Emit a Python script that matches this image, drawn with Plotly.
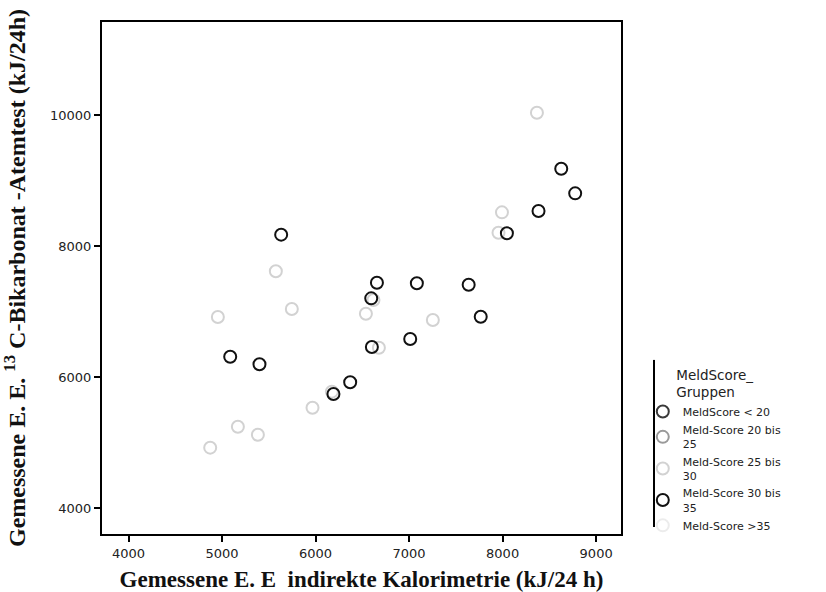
import plotly.graph_objects as go

# Data (x: indirect calorimetry, y: 13C-bicarbonate breath test), kJ/24h
black_x = [5632, 6656, 7083, 7637, 8627, 8776, 8384, 8046, 6595, 7766, 6602, 7012, 5087, 5400, 6370, 6191]
black_y = [8173, 7440, 7431, 7409, 9180, 8804, 8534, 8194, 7201, 6921, 6458, 6580, 6310, 6194, 5919, 5740]

gray_x = [8367, 5575, 5746, 4955, 6538, 7254, 6677, 6619, 6174, 5967, 5169, 5383, 4873, 7993, 7956]
gray_y = [10035, 7614, 7038, 6916, 6966, 6870, 6447, 7176, 5776, 5531, 5241, 5119, 4921, 8514, 8203]

# points lying just beyond the right edge of the axis (only clipped slivers visible)
edge_black_x = [9280, 9280]
edge_black_y = [10687, 9415]
edge_gray_x = [9280, 9280, 9280]
edge_gray_y = [10356, 9898, 9058]

groups = ["MeldScore &lt; 20", "Meld-Score 20 bis<br>25", "Meld-Score 25 bis<br>30",
          "Meld-Score 30 bis<br>35", "Meld-Score &gt;35"]
group_colors = ["#3a3a3a", "#9a9a9a", "#d2d2d2", "#111111", "#ececec"]

x_ticks = [4000, 5000, 6000, 7000, 8000, 9000]
y_ticks = [4000, 6000, 8000, 10000]

fig = go.Figure()

series = {
    0: ([None], [None]),
    1: ([None], [None]),
    2: (gray_x, gray_y),
    3: (black_x, black_y),
    4: ([None], [None]),
}
edges = {2: (edge_gray_x, edge_gray_y), 3: (edge_black_x, edge_black_y)}

for i, name in enumerate(groups):
    xs, ys = series[i]
    mk = dict(symbol="circle-open", size=12, color=group_colors[i],
              line=dict(width=2, color=group_colors[i]))
    fig.add_trace(go.Scatter(
        x=xs, y=ys, mode="markers", name=name, legendgroup=str(i),
        cliponaxis=False, marker=mk, showlegend=True,
    ))
    if i in edges:
        ex, ey = edges[i]
        fig.add_trace(go.Scatter(
            x=ex, y=ey, mode="markers", name=name, legendgroup=str(i),
            cliponaxis=True, marker=mk, showlegend=False,
        ))

tick_font = dict(family="DejaVu Sans, Arial, sans-serif", size=13, color="#222222")
x_title_font = dict(family="Liberation Serif, Times New Roman, serif", size=23, color="#111111")
y_title_font = dict(family="Liberation Serif, Times New Roman, serif", size=24, color="#111111")
legend_font = dict(family="DejaVu Sans, Arial, sans-serif", size=11, color="#222222")

fig.update_layout(
    width=826, height=592,
    margin=dict(l=102, r=205, t=22, b=58, autoexpand=False),
    paper_bgcolor="white", plot_bgcolor="white",
    font=tick_font,
    xaxis=dict(
        range=[3716, 9266], tickvals=x_ticks, ticktext=[str(v) for v in x_ticks],
        showgrid=False, zeroline=False,
        showline=True, linecolor="black", linewidth=2, mirror=True,
        ticks="outside", ticklen=6, tickwidth=1.5, tickcolor="black",
        tickfont=tick_font, automargin=False,
        title=dict(text="<b>Gemessene E. E  indirekte Kalorimetrie (kJ/24 h)</b>", font=x_title_font, standoff=22),
    ),
    yaxis=dict(
        range=[3603, 11420], tickvals=y_ticks, ticktext=[str(v) for v in y_ticks],
        showgrid=False, zeroline=False,
        showline=True, linecolor="black", linewidth=2, mirror=True,
        ticks="outside", ticklen=6, tickwidth=1.5, tickcolor="black",
        tickfont=tick_font, automargin=False,
        title=dict(text="<b>Gemessene E. E. <sup>13</sup> C-Bikarbonat -Atemtest (kJ/24h)</b>", font=y_title_font, standoff=20),
    ),
    legend=dict(
        x=1.042, y=0.336, xanchor="left", yanchor="top",
        bgcolor="rgba(0,0,0,0)",
        font=legend_font,
        title=dict(text="MeldScore_<br>Gruppen", side="top center",
                   font=dict(family="DejaVu Sans, Arial, sans-serif", size=13.5, color="#222222")),
        itemsizing="constant", tracegroupgap=0,
    ),
    shapes=[dict(type="line", xref="paper", yref="paper", x0=1.0636, x1=1.0636,
                 y0=0.0137, y1=0.340, line=dict(color="black", width=2))],
)

fig.write_html("out.html")
